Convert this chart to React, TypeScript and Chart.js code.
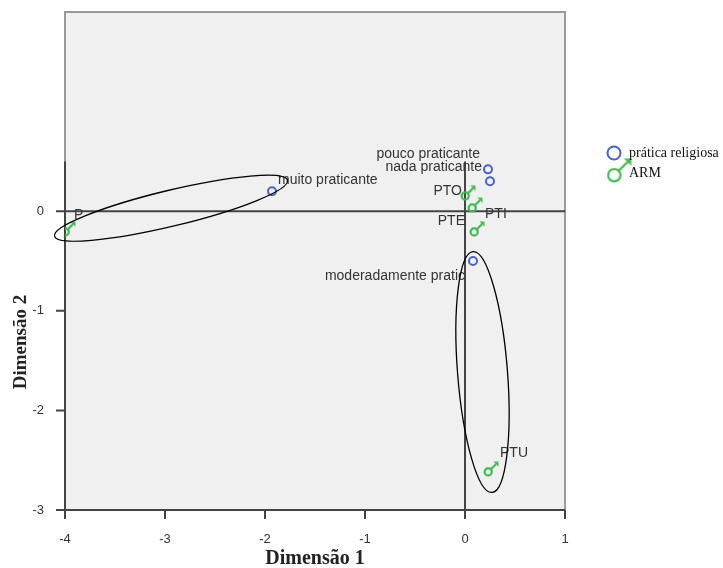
import React, { useEffect, useRef } from 'react';
import { Chart, registerables } from 'chart.js';

Chart.register(...registerables);

// ---- data ----
const religiosaLabels = ['muito praticante', 'pouco praticante', 'nada praticante', 'moderadamente pratic'];
const religiosaX = [-1.93, 0.23, 0.25, 0.08];
const religiosaY = [0.2, 0.42, 0.3, -0.5];

const armLabels = ['P', 'PTO', 'PTI', 'PTE', 'PTU'];
const armX = [-3.97, 0.03, 0.1, 0.12, 0.26];
const armY = [-0.18, 0.18, 0.06, -0.18, -2.59];

const legendNames = ['prática religiosa', 'ARM'];
const xTicks = [-4, -3, -2, -1, 0, 1];
const yTicks = [-3, -2, -1, 0];
const xTitle = 'Dimensão 1';
const yTitle = 'Dimensão 2';

// grouping ellipses (data units): centre, semi-axes, rotation (deg, screen)
const ellipseCX = [-2.94, 0.175];
const ellipseCY = [0.03, -1.615];
const ellipseA = [1.2, 1.21];
const ellipseB = [0.18, 0.25];
const ellipseRot = [-13.5, 85.5];

// ---- styles ----
const BLUE = '#4a63c8';
const GREEN = '#3dba4b';
const SANS = '"Liberation Sans", Arial, sans-serif';
const SERIF = '"Liberation Serif", "Times New Roman", serif';
// label offsets in px relative to the point: [dx, dy, align]
const religiosaLabelPos: [number, number, CanvasTextAlign][] = [
  [6, -11, 'left'],
  [-8, -15, 'right'],
  [-8, -14, 'right'],
  [-8, 15, 'right'],
];
const armLabelPos: [number, number, CanvasTextAlign][] = [
  [6, -14, 'left'],
  [-6, -2, 'right'],
  [10, 9, 'left'],
  [-12, -8, 'right'],
  [9, -16, 'left'],
];

function marsCanvas(color: string, r: number, lw: number, head: number): HTMLCanvasElement {
  const size = Math.ceil(r * 2 + lw + r * 1.4 + 1);
  const c = document.createElement('canvas');
  c.width = size;
  c.height = size;
  const ctx = c.getContext('2d')!;
  ctx.strokeStyle = color;
  ctx.fillStyle = color;
  ctx.lineWidth = lw;
  const cx = r + lw / 2 + 0.5;
  const cy = size - r - lw / 2 - 0.5;
  ctx.beginPath();
  ctx.arc(cx, cy, r, 0, Math.PI * 2);
  ctx.stroke();
  const d = r * 0.7071;
  const sx = cx + d;
  const sy = cy - d;
  const tx = size - 0.5;
  const ty = 0.5;
  ctx.beginPath();
  ctx.moveTo(sx, sy);
  ctx.lineTo(tx - head * 0.5, ty + head * 0.5);
  ctx.stroke();
  ctx.beginPath();
  ctx.moveTo(tx, ty);
  ctx.lineTo(tx - head, ty);
  ctx.lineTo(tx, ty + head);
  ctx.closePath();
  ctx.fill();
  return c;
}

export default function App() {
  const ref = useRef<HTMLCanvasElement | null>(null);

  useEffect(() => {
    if (!ref.current) return;
    const marsSmall = marsCanvas(GREEN, 3.6, 2.2, 5);
    const marsBig = marsCanvas(GREEN, 6.2, 2.2, 7);

    const decor = {
      id: 'decor',
      beforeDatasetsDraw(chart: any) {
        const { ctx, chartArea: a, scales } = chart;
        const x = scales.x;
        const y = scales.y;
        ctx.save();
        ctx.fillStyle = '#f0f0f0';
        ctx.fillRect(a.left, a.top, a.right - a.left, a.bottom - a.top);
        ctx.strokeStyle = '#9a9a9a';
        ctx.lineWidth = 2;
        ctx.strokeRect(a.left, a.top, a.right - a.left, a.bottom - a.top);
        const yTopAxis = y.getPixelForValue(0.5);
        ctx.strokeStyle = '#444';
        ctx.lineWidth = 2;
        ctx.beginPath();
        ctx.moveTo(a.left, yTopAxis);
        ctx.lineTo(a.left, a.bottom);
        ctx.moveTo(a.left, a.bottom);
        ctx.lineTo(a.right, a.bottom);
        const x0 = x.getPixelForValue(0);
        const y0 = y.getPixelForValue(0);
        ctx.moveTo(x0, yTopAxis);
        ctx.lineTo(x0, a.bottom);
        ctx.moveTo(a.left, y0);
        ctx.lineTo(a.right, y0);
        for (const v of yTicks) {
          const py = y.getPixelForValue(v);
          ctx.moveTo(a.left - 9, py);
          ctx.lineTo(a.left, py);
        }
        for (const v of xTicks) {
          const px = x.getPixelForValue(v);
          ctx.moveTo(px, a.bottom);
          ctx.lineTo(px, a.bottom + 9);
        }
        ctx.stroke();
        ctx.restore();
      },
      afterDatasetsDraw(chart: any) {
        const { ctx, scales } = chart;
        const x = scales.x;
        const y = scales.y;
        ctx.save();
        ctx.font = `14px ${SANS}`;
        ctx.fillStyle = '#333';
        ctx.textBaseline = 'middle';
        religiosaLabels.forEach((t, i) => {
          const [dx, dy, al] = religiosaLabelPos[i];
          ctx.textAlign = al;
          ctx.fillText(t, x.getPixelForValue(religiosaX[i]) + dx, y.getPixelForValue(religiosaY[i]) + dy);
        });
        armLabels.forEach((t, i) => {
          const [dx, dy, al] = armLabelPos[i];
          ctx.textAlign = al;
          ctx.fillText(t, x.getPixelForValue(armX[i]) + dx, y.getPixelForValue(armY[i]) + dy);
        });
        const ux = Math.abs(x.getPixelForValue(1) - x.getPixelForValue(0));
        const uy = Math.abs(y.getPixelForValue(1) - y.getPixelForValue(0));
        const u = (ux + uy) / 2;
        ctx.strokeStyle = '#000';
        ctx.lineWidth = 1.3;
        for (let i = 0; i < ellipseCX.length; i++) {
          ctx.beginPath();
          ctx.ellipse(
            x.getPixelForValue(ellipseCX[i]),
            y.getPixelForValue(ellipseCY[i]),
            ellipseA[i] * u,
            ellipseB[i] * u,
            (ellipseRot[i] * Math.PI) / 180,
            0,
            Math.PI * 2
          );
          ctx.stroke();
        }
        ctx.restore();
      },
      afterDraw(chart: any) {
        const { ctx, chartArea: a } = chart;
        ctx.save();
        ctx.fillStyle = '#222';
        ctx.font = `bold 20px ${SERIF}`;
        ctx.textAlign = 'center';
        ctx.textBaseline = 'middle';
        ctx.fillText(xTitle, (a.left + a.right) / 2, 559);
        ctx.font = `bold 19px ${SERIF}`;
        ctx.translate(21, 342);
        ctx.rotate(-Math.PI / 2);
        ctx.fillText(yTitle, 0, 0);
        ctx.restore();
        // legend
        ctx.save();
        const lx = a.right + 49;
        const ly = 153;
        ctx.strokeStyle = BLUE;
        ctx.lineWidth = 2;
        ctx.beginPath();
        ctx.arc(lx, ly, 6.5, 0, Math.PI * 2);
        ctx.stroke();
        ctx.drawImage(marsBig, lx - 7.5, ly + 22 - marsBig.height + 6.5 + 1.6);
        ctx.font = `14px ${SERIF}`;
        ctx.fillStyle = '#111';
        ctx.textAlign = 'left';
        ctx.textBaseline = 'middle';
        ctx.fillText(legendNames[0], lx + 15, ly);
        ctx.fillText(legendNames[1], lx + 15, ly + 20);
        ctx.restore();
      },
    };

    const chart = new Chart(ref.current, {
      type: 'scatter',
      data: {
        datasets: [
          {
            label: legendNames[0],
            data: religiosaX.map((v, i) => ({ x: v, y: religiosaY[i] })),
            pointStyle: 'circle',
            pointRadius: 4,
            borderColor: BLUE,
            borderWidth: 2,
            backgroundColor: 'rgba(0,0,0,0)',
          },
          {
            label: legendNames[1],
            data: armX.map((v, i) => ({ x: v, y: armY[i] })),
            pointStyle: marsSmall as any,
            pointRadius: 6,
            borderColor: GREEN,
            backgroundColor: GREEN,
          },
        ],
      },
      plugins: [decor],
      options: {
        responsive: false,
        animation: false,
        layout: { padding: { top: 12, right: 158, left: 0, bottom: 0 } },
        plugins: { legend: { display: false }, tooltip: { enabled: false } },
        scales: {
          x: {
            type: 'linear',
            min: -4,
            max: 1,
            grid: { display: false },
            border: { display: false },
            afterBuildTicks: (s: any) => {
              s.ticks = xTicks.map((v) => ({ value: v }));
            },
            afterFit: (s: any) => {
              s.height = 58;
              s.paddingLeft = 0;
              s.paddingRight = 0;
              s.paddingTop = 0;
              s.paddingBottom = 0;
            },
            ticks: {
              padding: 14,
              color: '#333',
              font: { family: SANS, size: 13 },
            },
          },
          y: {
            type: 'linear',
            min: -3,
            max: 2,
            grid: { display: false },
            border: { display: false },
            afterBuildTicks: (s: any) => {
              s.ticks = yTicks.map((v) => ({ value: v }));
            },
            afterFit: (s: any) => {
              s.width = 65;
              s.paddingLeft = 0;
              s.paddingRight = 0;
              s.paddingTop = 0;
              s.paddingBottom = 0;
            },
            ticks: {
              padding: 13,
              color: '#333',
              font: { family: SANS, size: 13 },
            },
          },
        },
      },
    });
    return () => chart.destroy();
  }, []);

  return (
    <div style={{ position: 'fixed', left: 0, top: 0, width: 723, height: 568, background: '#fff' }}>
      <canvas ref={ref} width={723} height={568} style={{ display: 'block' }} />
    </div>
  );
}
